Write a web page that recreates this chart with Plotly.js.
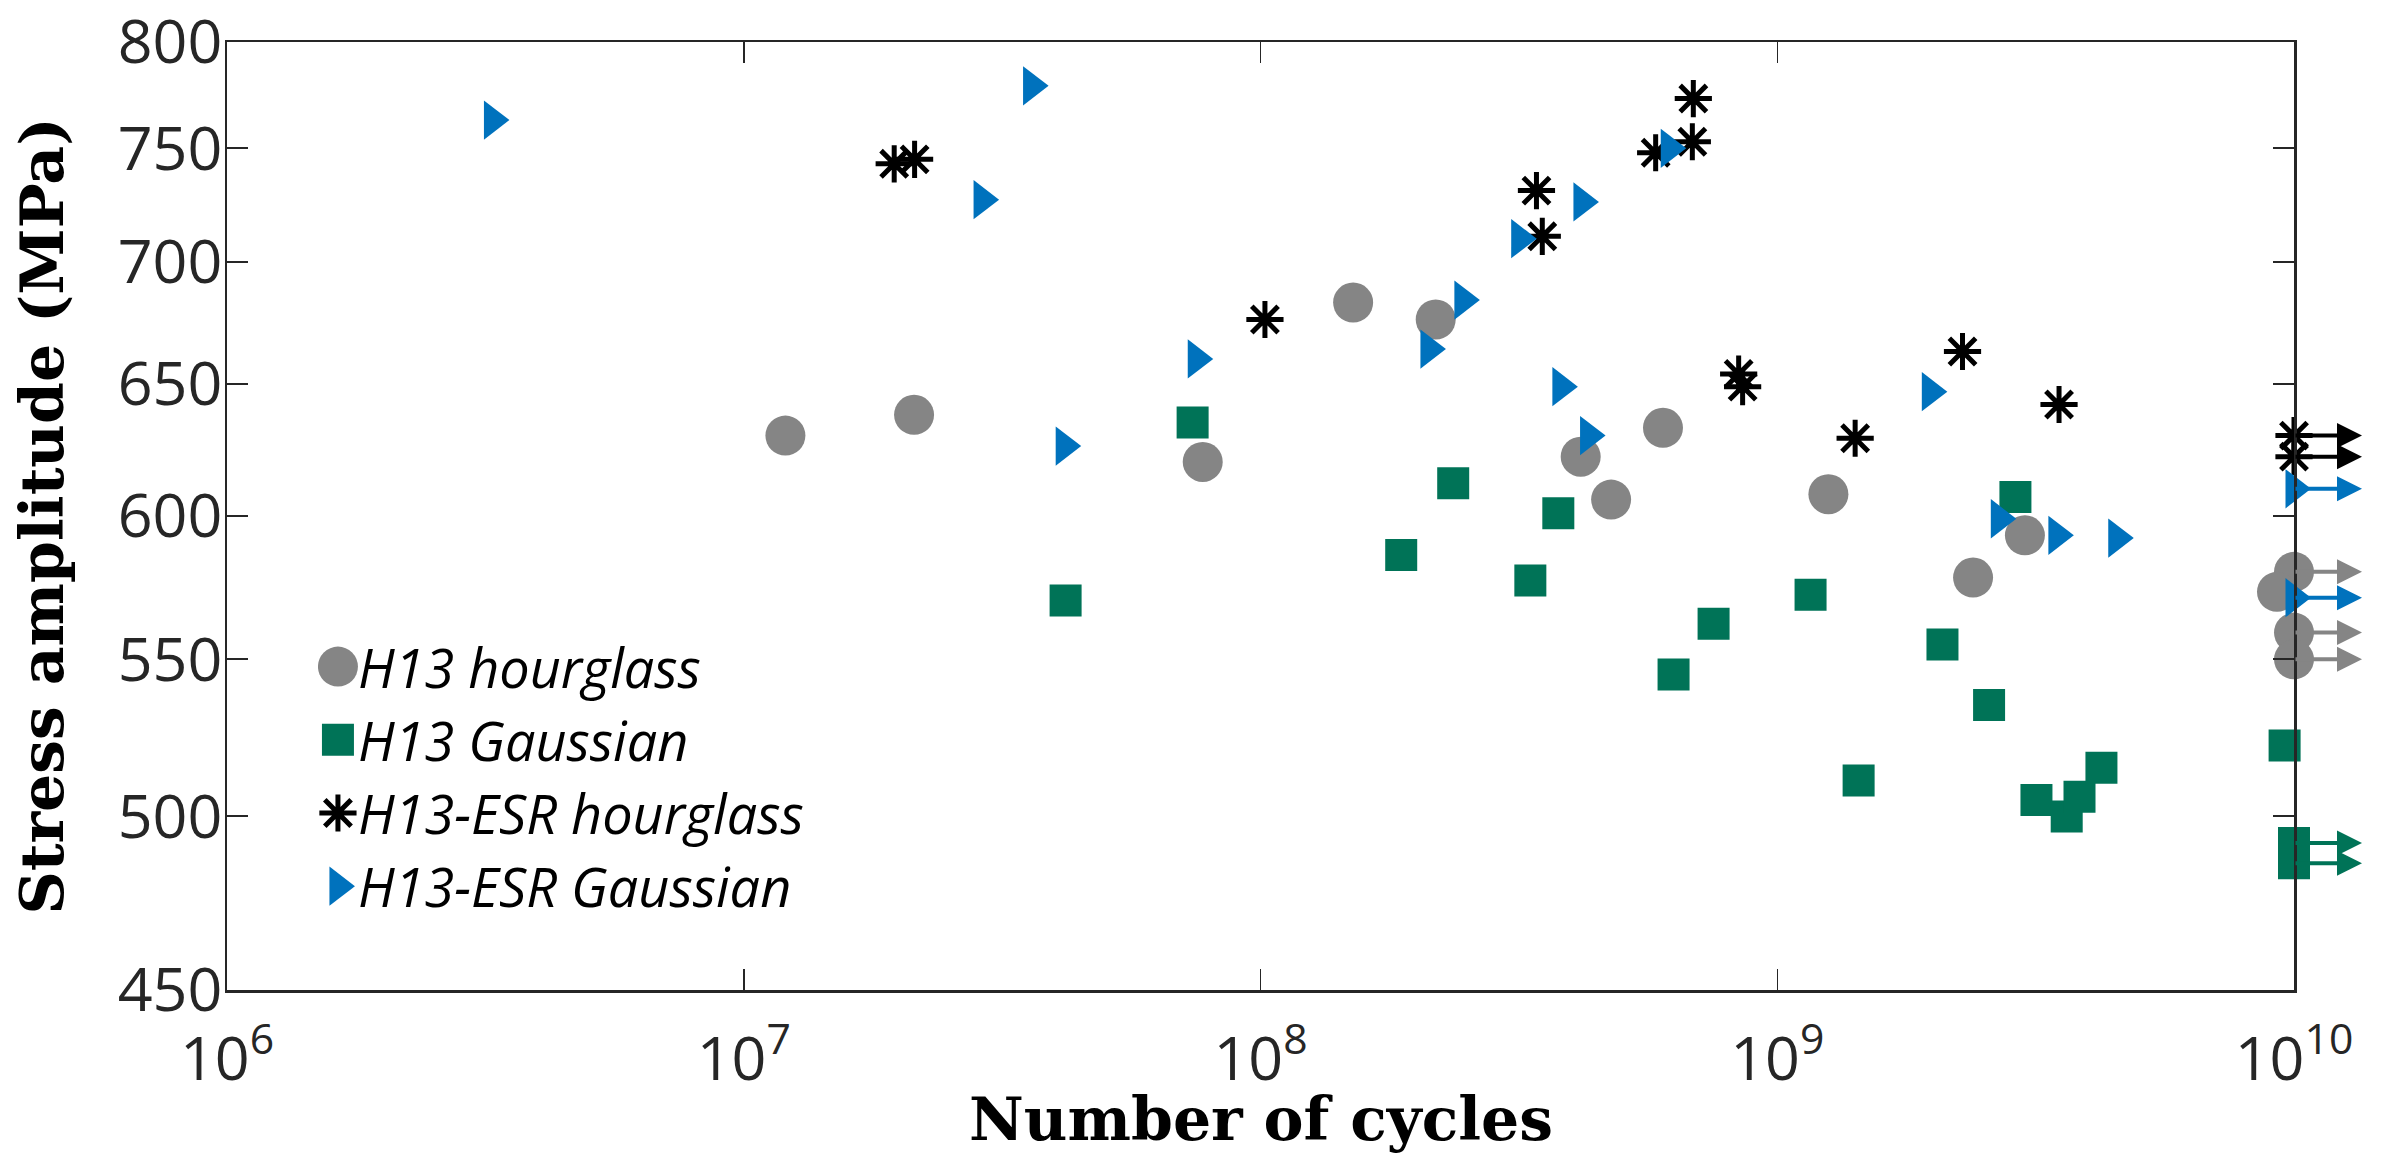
<!DOCTYPE html>
<html>
<head>
<meta charset="utf-8">
<script src="https://cdn.plot.ly/plotly-3.0.1.min.js"></script>
<style>html,body{margin:0;padding:0;background:#fff;}</style>
</head>
<body>
<div id="chart" style="width:2394px;height:1171px;"></div>
<script>
// ---- data ----
const seriesNames = ['H13 hourglass', 'H13 Gaussian', 'H13-ESR hourglass', 'H13-ESR Gaussian'];

const h13HourglassN = [1.204e7, 2.136e7, 7.73e7, 1.511e8, 2.183e8, 4.165e8, 4.77e8, 6.01e8, 1.256e9, 2.393e9, 3.015e9, 1e10, 9.27e9, 1e10, 1e10];
const h13HourglassS = [630, 638, 620, 683, 676, 622, 606, 633, 608, 578, 593, 580, 573, 559, 550];
const h13HourglassRunout = [0, 0, 0, 0, 0, 0, 0, 0, 0, 0, 0, 1, 0, 1, 1];

const h13GaussianN = [4.196e7, 7.39e7, 1.872e8, 2.36e8, 3.328e8, 3.77e8, 6.30e8, 7.53e8, 1.16e9, 1.437e9, 2.088e9, 2.57e9, 2.89e9, 3.174e9, 3.632e9, 3.845e9, 4.24e9, 9.59e9, 1e10, 1e10];
const h13GaussianS = [570, 635, 586, 612, 577, 601, 545, 562, 572, 511, 555, 535, 607, 505, 500, 506, 515, 522, 492, 486];
const h13GaussianRunout = [0, 0, 0, 0, 0, 0, 0, 0, 0, 0, 0, 0, 0, 0, 0, 0, 0, 0, 1, 1];

const esrHourglassN = [1.955e7, 2.141e7, 1.02e8, 3.42e8, 3.51e8, 5.817e8, 6.85e8, 6.88e8, 8.42e8, 8.57e8, 1.415e9, 2.283e9, 3.51e9, 1e10, 1e10];
const esrHourglassS = [743, 745, 676, 731, 711, 748, 753, 773, 654, 649, 629, 663, 642, 630, 622];
const esrHourglassRunout = [0, 0, 0, 0, 0, 0, 0, 0, 0, 0, 0, 0, 0, 1, 1];

const esrGaussianN = [3.263e6, 2.892e7, 3.606e7, 4.17e7, 7.51e7, 2.118e8, 2.464e8, 3.174e8, 3.813e8, 4.188e8, 4.314e8, 6.18e8, 1.978e9, 2.69e9, 3.476e9, 4.54e9, 1e10, 1e10];
const esrGaussianS = [763, 727, 779, 626, 660, 664, 684, 710, 649, 726, 630, 750, 647, 599, 593, 592, 610, 571];
const esrGaussianRunout = [0, 0, 0, 0, 0, 0, 0, 0, 0, 0, 0, 0, 0, 0, 0, 0, 1, 1];

const xTickVals = [1e6, 1e7, 1e8, 1e9, 1e10];
const xTickText = ['10<sup>6</sup>', '10<sup>7</sup>', '10<sup>8</sup>', '10<sup>9</sup>', '10<sup>10</sup>'];
const yTickVals = [450, 500, 550, 600, 650, 700, 750, 800];
const yTickText = ['450', '500', '550', '600', '650', '700', '750', '800'];
const xTitle = 'Number of cycles';
const yTitle = 'Stress amplitude (MPa)';

// ---- styles ----
const axisColor = '#262626';
const styles = [
  {color: '#858585', symbol: 'circle', size: 40, line: {width: 0}},
  {color: '#007357', symbol: 'square', size: 32, line: {width: 0}},
  {color: '#000000', symbol: 'asterisk-open', size: 31, line: {width: 5, color: '#000000'}},
  {color: '#0072BD', symbol: 'triangle-right', size: 34, line: {width: 0}}
];
const allN = [h13HourglassN, h13GaussianN, esrHourglassN, esrGaussianN];
const allS = [h13HourglassS, h13GaussianS, esrHourglassS, esrGaussianS];
const allRun = [h13HourglassRunout, h13GaussianRunout, esrHourglassRunout, esrGaussianRunout];

const traces = seriesNames.map((name, k) => ({
  type: 'scatter', mode: 'markers', name: name,
  x: allN[k], y: allS[k], cliponaxis: false,
  marker: {color: styles[k].color, symbol: styles[k].symbol, size: styles[k].size,
           line: styles[k].line.width ? styles[k].line : {width: 0}}
}));

const titleFont = {family: 'DejaVu Serif, serif', size: 60, color: '#000000', weight: 700};

const arrowLen = 68;
const annotations = [];
allN.forEach((xs, k) => {
  xs.forEach((n, i) => {
    if (!allRun[k][i]) return;
    annotations.push({
      x: Math.log10(n), y: Math.log10(allS[k][i]), xref: 'x', yref: 'y',
      text: '', showarrow: true, ax: -arrowLen, ay: 0, xshift: arrowLen,
      arrowhead: 2, arrowsize: 1.25, arrowwidth: 4, arrowcolor: styles[k].color, standoff: 0
    });
  });
});
// x-axis title (placed as an annotation below the tick labels)
annotations.push({
  text: xTitle, xref: 'paper', yref: 'paper', x: 0.5, y: -0.136,
  xanchor: 'center', yanchor: 'middle', showarrow: false, font: titleFont
});

const tickFont = {family: 'Open Sans, Noto Sans, sans-serif', size: 61, color: axisColor};

const layout = {
  width: 2394, height: 1171,
  margin: {l: 227, r: 100, t: 42, b: 181},
  paper_bgcolor: '#ffffff', plot_bgcolor: '#ffffff',
  showlegend: true,
  legend: {x: 0.044, y: 0.385, xanchor: 'left', yanchor: 'top', bgcolor: 'rgba(0,0,0,0)',
           font: {family: 'Open Sans, Noto Sans, sans-serif', size: 54, color: '#000000', style: 'italic'},
           itemsizing: 'trace'},
  xaxis: {
    type: 'log', range: [6, 10], tickvals: xTickVals, ticktext: xTickText,
    ticks: 'inside', ticklen: 21, tickwidth: 1.5, tickcolor: axisColor,
    showline: true, linewidth: 2.5, linecolor: axisColor, mirror: 'ticks',
    showgrid: false, zeroline: false, tickfont: tickFont, ticklabelstandoff: 14,
    ticklabeloverflow: 'allow'
  },
  yaxis: {
    type: 'log', range: [Math.log10(450), Math.log10(800)], tickvals: yTickVals, ticktext: yTickText,
    ticks: 'inside', ticklen: 21, tickwidth: 2, tickcolor: axisColor,
    showline: true, linewidth: 2.5, linecolor: axisColor, mirror: 'ticks',
    showgrid: false, zeroline: false, tickfont: tickFont, ticklabelstandoff: -10,
    ticklabeloverflow: 'allow',
    title: {text: yTitle, font: titleFont, standoff: 35}
  },
  annotations: annotations
};

Plotly.newPlot('chart', traces, layout, {staticPlot: true}).then(gd => {
  // enlarge legend symbols to the size used in the plot area
  gd.querySelectorAll('.legend .traces').forEach(tr => {
    const d = tr.__data__;
    const trace = d && d[0] && d[0].trace;
    if (!trace) return;
    const sc = trace.marker.size / 16;
    tr.querySelectorAll('.legendpoints path').forEach(p => {
      const t = p.getAttribute('transform') || '';
      p.setAttribute('transform', t + ' scale(' + sc + ')');
      const sw = parseFloat(p.style.strokeWidth);
      if (sw) p.style.strokeWidth = (trace.marker.line.width / sc) + 'px';
    });
  });
});
</script>
</body>
</html>
